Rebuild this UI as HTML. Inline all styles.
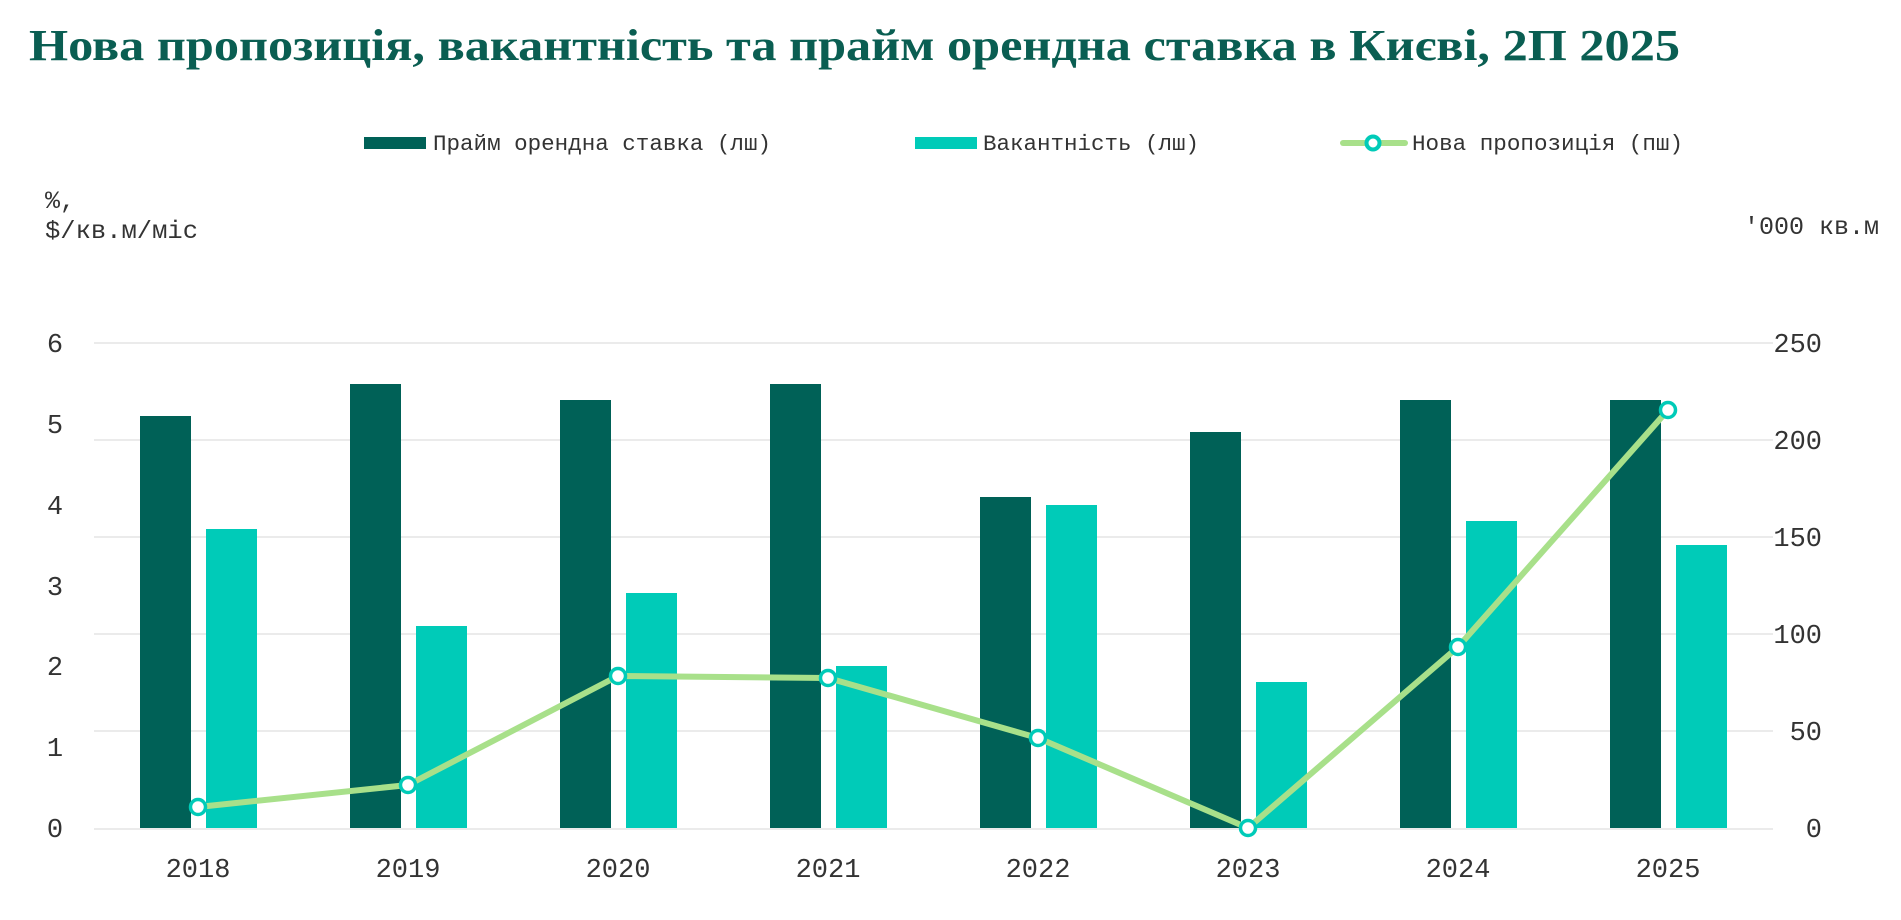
<!DOCTYPE html>
<html><head><meta charset="utf-8"><style>
html,body{margin:0;padding:0;background:#fff;width:1901px;height:920px;overflow:hidden}
svg{display:block}
.m{font-family:"Liberation Mono","DejaVu Sans Mono",monospace;fill:#333}
</style></head><body>
<svg width="1901" height="920" viewBox="0 0 1901 920" xmlns="http://www.w3.org/2000/svg">
<text x="29" y="60" font-family="Liberation Serif, DejaVu Serif, serif" font-weight="bold" font-size="44" fill="#0a5e52" textLength="1651" lengthAdjust="spacingAndGlyphs">Нова пропозиція, вакантність та прайм орендна ставка в Києві, 2П 2025</text>
<!-- legend -->
<rect x="364" y="137" width="62" height="12" fill="#006157"/>
<text class="m" x="433" y="150" font-size="22" textLength="338" lengthAdjust="spacingAndGlyphs">Прайм орендна ставка (лш)</text>
<rect x="915" y="137" width="62" height="12" fill="#00cbb8"/>
<text class="m" x="983" y="150" font-size="22" textLength="216" lengthAdjust="spacingAndGlyphs">Вакантність (лш)</text>
<line x1="1343" y1="143" x2="1405" y2="143" stroke="#a8e08a" stroke-width="6" stroke-linecap="round"/>
<circle cx="1373" cy="143" r="6.5" fill="#fff" stroke="#00cbb8" stroke-width="4"/>
<text class="m" x="1412" y="150" font-size="22" textLength="271" lengthAdjust="spacingAndGlyphs">Нова пропозиція (пш)</text>
<!-- axis titles -->
<text class="m" x="45" y="208" font-size="25">%,</text>
<text class="m" x="45" y="238" font-size="25" textLength="153" lengthAdjust="spacingAndGlyphs">$/кв.м/міс</text>
<text class="m" x="1879" y="234" font-size="25" text-anchor="end">'000 кв.м</text>
<!-- grid -->
<g stroke="#ebebeb" stroke-width="2">
<line x1="94" y1="343" x2="1773" y2="343"/>
<line x1="94" y1="440" x2="1773" y2="440"/>
<line x1="94" y1="537" x2="1773" y2="537"/>
<line x1="94" y1="634" x2="1773" y2="634"/>
<line x1="94" y1="731" x2="1773" y2="731"/>
<line x1="94" y1="829" x2="1773" y2="829"/>
</g>
<!-- left ticks -->
<g class="m" font-size="27" text-anchor="middle">
<text x="55" y="352">6</text><text x="55" y="433">5</text><text x="55" y="514">4</text>
<text x="55" y="595">3</text><text x="55" y="675">2</text><text x="55" y="756">1</text><text x="55" y="837">0</text>
</g>
<g class="m" font-size="27" text-anchor="end">
<text x="1822" y="352">250</text><text x="1822" y="449">200</text><text x="1822" y="546">150</text>
<text x="1822" y="643">100</text><text x="1822" y="740">50</text><text x="1822" y="837">0</text>
</g>
<!-- bars -->
<g fill="#006157">
<rect x="140" y="416" width="51" height="412"/>
<rect x="350" y="384" width="51" height="444"/>
<rect x="560" y="400" width="51" height="428"/>
<rect x="770" y="384" width="51" height="444"/>
<rect x="980" y="497" width="51" height="331"/>
<rect x="1190" y="432" width="51" height="396"/>
<rect x="1400" y="400" width="51" height="428"/>
<rect x="1610" y="400" width="51" height="428"/>
</g>
<g fill="#00cbb8">
<rect x="206" y="529" width="51" height="299"/>
<rect x="416" y="626" width="51" height="202"/>
<rect x="626" y="593" width="51" height="235"/>
<rect x="836" y="666" width="51" height="162"/>
<rect x="1046" y="505" width="51" height="323"/>
<rect x="1256" y="682" width="51" height="146"/>
<rect x="1466" y="521" width="51" height="307"/>
<rect x="1676" y="545" width="51" height="283"/>
</g>
<!-- line -->
<polyline fill="none" stroke="#a8e08a" stroke-width="6" stroke-linejoin="round" points="198,807 408,785 618,676 828,678 1038,738 1248,828 1458,647 1668,410"/>
<g fill="#fff" stroke="#00cbb8" stroke-width="3.5">
<circle cx="198" cy="807" r="7.5"/><circle cx="408" cy="785" r="7.5"/><circle cx="618" cy="676" r="7.5"/><circle cx="828" cy="678" r="7.5"/>
<circle cx="1038" cy="738" r="7.5"/><circle cx="1248" cy="828" r="7.5"/><circle cx="1458" cy="647" r="7.5"/><circle cx="1668" cy="410" r="7.5"/>
</g>
<!-- years -->
<g class="m" font-size="27" text-anchor="middle">
<text x="198" y="877">2018</text><text x="408" y="877">2019</text><text x="618" y="877">2020</text><text x="828" y="877">2021</text>
<text x="1038" y="877">2022</text><text x="1248" y="877">2023</text><text x="1458" y="877">2024</text><text x="1668" y="877">2025</text>
</g>
</svg>
</body></html>
